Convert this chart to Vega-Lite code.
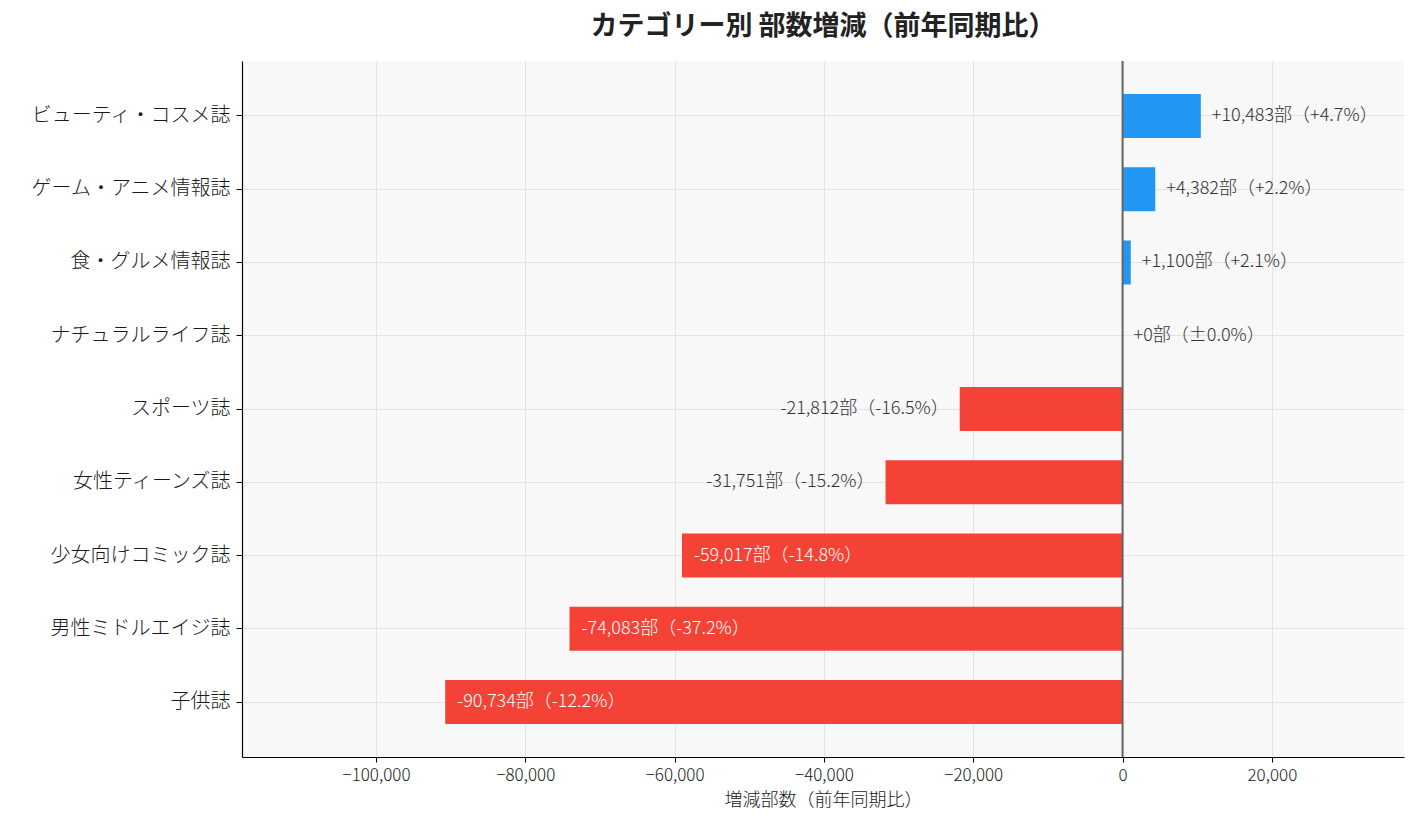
{
  "$schema": "https://vega.github.io/schema/vega-lite/v6.json",
  "autosize": {"type": "none"},
  "padding": {"left": 242, "top": 61, "right": 13, "bottom": 68},
  "width": 1162,
  "height": 696,
  "background": "white",
  "view": {"fill": "#f8f8f8", "stroke": null},
  "config": {
    "font": "Noto Sans CJK JP",
    "axis": {"labelFont": "Noto Sans CJK JP", "titleFont": "Noto Sans CJK JP", "labelColor": "#1a1a1a", "titleColor": "#1a1a1a", "domainColor": "#000", "tickColor": "#000", "gridColor": "#e3e3e3", "gridWidth": 1, "labelFontWeight": 300, "titleFontWeight": 300}
  },
  "title": {"text": "カテゴリー別 部数増減（前年同期比）", "fontSize": 27, "fontWeight": "bold", "font": "Noto Sans CJK JP", "color": "#222", "offset": 19, "anchor": "middle"},
  "data": {"values": [
    {"category": "ビューティ・コスメ誌", "change": 10483, "label": "+10,483部（+4.7%）"},
    {"category": "ゲーム・アニメ情報誌", "change": 4382, "label": "+4,382部（+2.2%）"},
    {"category": "食・グルメ情報誌", "change": 1100, "label": "+1,100部（+2.1%）"},
    {"category": "ナチュラルライフ誌", "change": 0, "label": "+0部（±0.0%）"},
    {"category": "スポーツ誌", "change": -21812, "label": "-21,812部（-16.5%）"},
    {"category": "女性ティーンズ誌", "change": -31751, "label": "-31,751部（-15.2%）"},
    {"category": "少女向けコミック誌", "change": -59017, "label": "-59,017部（-14.8%）"},
    {"category": "男性ミドルエイジ誌", "change": -74083, "label": "-74,083部（-37.2%）"},
    {"category": "子供誌", "change": -90734, "label": "-90,734部（-12.2%）"}
  ]},
  "encoding": {
    "y": {"field": "category", "type": "nominal", "sort": null,
      "scale": {"paddingInner": 0.4, "paddingOuter": 0.45},
      "axis": {"title": null, "labelFontSize": 20, "labelLimit": 0, "labelPadding": 6, "tickSize": 6, "domainWidth": 1.2, "grid": true}},
    "x": {"field": "change", "type": "quantitative",
      "scale": {"domain": [-117954, 37700], "nice": false, "zero": false},
      "axis": {"title": "増減部数（前年同期比）", "titleFontSize": 18, "titlePadding": 8, "labelFontSize": 17, "labelPadding": 5, "tickSize": 5, "values": [-100000, -80000, -60000, -40000, -20000, 0, 20000], "format": ",d", "grid": true, "domainWidth": 1.2}}
  },
  "layer": [
    {"mark": {"type": "bar"},
     "encoding": {"color": {"condition": {"test": "datum.change >= 0", "value": "#2196F3"}, "value": "#F44336"}}},
    {"data": {"values": [{"zero": 0}]},
     "mark": {"type": "rule", "color": "#666", "strokeWidth": 2},
     "encoding": {"x": {"field": "zero", "type": "quantitative"}, "y": null}},
    {"transform": [{"filter": "datum.change >= 0"}],
     "mark": {"type": "text", "align": "left", "baseline": "middle", "dx": 11, "fontSize": 18, "fontWeight": 300, "color": "#333"},
     "encoding": {"text": {"field": "label"}}},
    {"transform": [{"filter": "datum.change < 0 && datum.change > -50000"}],
     "mark": {"type": "text", "align": "right", "baseline": "middle", "dx": -11, "fontSize": 18, "fontWeight": 300, "color": "#333"},
     "encoding": {"text": {"field": "label"}}},
    {"transform": [{"filter": "datum.change <= -50000"}],
     "mark": {"type": "text", "align": "left", "baseline": "middle", "dx": 12, "fontSize": 18, "fontWeight": 300, "color": "white"},
     "encoding": {"text": {"field": "label"}}}
  ]
}
